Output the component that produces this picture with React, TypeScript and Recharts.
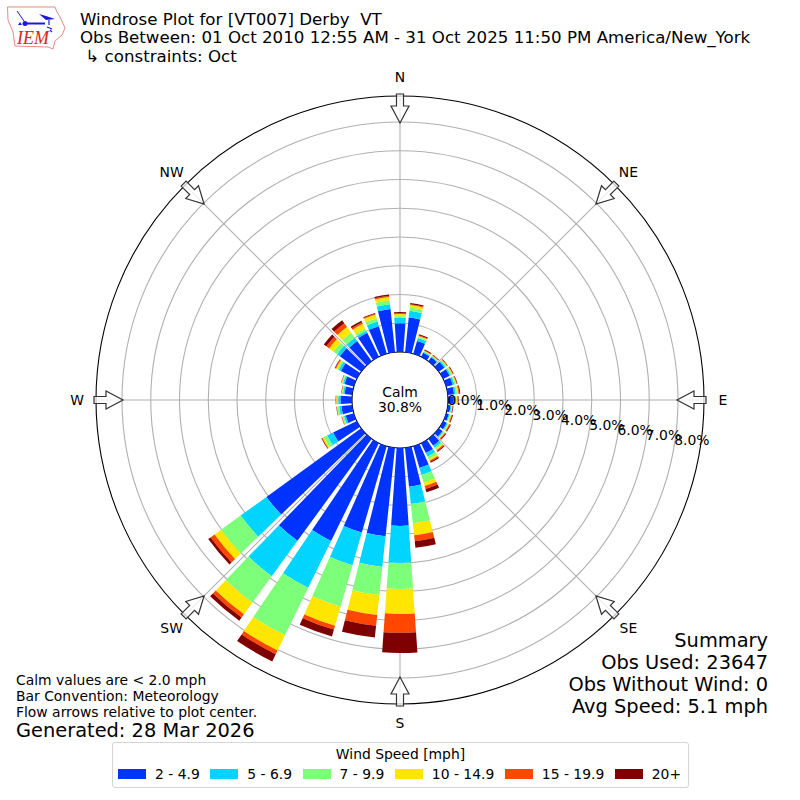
import React from "react";
import { RadialBarChart, RadialBar, PolarGrid, PolarAngleAxis, PolarRadiusAxis, Legend } from "recharts";

const FONT = "'DejaVu Sans', sans-serif";
const CX = 400;
const CY = 400;
const INNER_R = 48;
const OUTER_R = 304;
// radius where the value axis ends, 28.75px per percent
const AXIS_R = 306.75;

// direction bins in degrees, 0 = north, clockwise
const directions = [
    0, 10, 20, 30, 40, 50, 60, 70, 80, 90, 100, 110, 120, 130, 140, 150, 160, 170,
    180, 190, 200, 210, 220, 230, 240, 250, 260, 270, 280, 290, 300, 310, 320, 330, 340, 350,
];

// percent of observations in each speed class, per direction bin
const speed2to5 = [
    1.0, 1.22, 0.47, 0.16, 0.17, 0.24, 0.25, 0.24, 0.22, 0.2, 0.1, 0.1, 0.14, 0.16, 0.3, 0.38, 0.79, 1.36,
    2.71, 3.1, 3.13, 3.79, 4.39, 4.07, 0.92, 0.3, 0.38, 0.4, 0.27, 0.34, 0.62, 0.92, 0.87, 0.93, 1.0, 1.51,
];
const speed5to7 = [
    0.2, 0.23, 0.1, 0.04, 0.03, 0.05, 0.05, 0.06, 0.06, 0.05, 0.03, 0.03, 0.04, 0.04, 0.08, 0.14, 0.25, 0.61,
    1.29, 1.07, 1.18, 1.81, 1.52, 1.11, 0.23, 0.06, 0.08, 0.08, 0.05, 0.05, 0.08, 0.12, 0.13, 0.07, 0.17, 0.17,
];
const speed7to10 = [
    0.05, 0.12, 0.05, 0.02, 0.02, 0.04, 0.04, 0.04, 0.05, 0.04, 0.02, 0.03, 0.03, 0.03, 0.06, 0.1, 0.28, 0.67,
    0.9, 0.98, 1.5, 1.84, 1.14, 0.84, 0.13, 0.05, 0.06, 0.05, 0.04, 0.04, 0.06, 0.16, 0.22, 0.1, 0.12, 0.14,
];
const speed10to15 = [
    0.07, 0.08, 0.03, 0.02, 0.02, 0.02, 0.03, 0.03, 0.05, 0.04, 0.02, 0.04, 0.03, 0.03, 0.05, 0.06, 0.12, 0.42,
    0.87, 0.7, 0.69, 0.59, 0.5, 0.28, 0.05, 0.02, 0.02, 0.02, 0.01, 0.02, 0.05, 0.18, 0.25, 0.18, 0.13, 0.11,
];
const speed15to20 = [
    0.03, 0.03, 0.02, 0.02, 0.02, 0.01, 0.02, 0.02, 0.03, 0.02, 0.01, 0.02, 0.03, 0.03, 0.04, 0.04, 0.11, 0.21,
    0.66, 0.38, 0.14, 0.14, 0.14, 0.17, 0.02, 0.01, 0.01, 0.01, 0.01, 0.01, 0.03, 0.12, 0.16, 0.06, 0.03, 0.05,
];
const speed20plus = [
    0.04, 0.04, 0.04, 0.03, 0.02, 0.02, 0.02, 0.02, 0.03, 0.02, 0.02, 0.03, 0.03, 0.03, 0.03, 0.04, 0.12, 0.23,
    0.7, 0.41, 0.25, 0.28, 0.14, 0.1, 0.02, 0.01, 0.01, 0.01, 0.01, 0.01, 0.02, 0.11, 0.13, 0.06, 0.03, 0.04,
];

const seriesKeys = ["s1", "s2", "s3", "s4", "s5", "s6"];
const seriesLabels = ["2 - 4.9", "5 - 6.9", "7 - 9.9", "10 - 14.9", "15 - 19.9", "20+"];
const seriesColors = ["#0033ff", "#00d4ff", "#7dff7a", "#ffe600", "#ff4700", "#7f0000"];

const radiusTicks = [0, 1, 2, 3, 4, 5, 6, 7, 8];
const ringRadii = [76.75, 105.5, 134.25, 163, 191.75, 220.5, 249.25, 278];
const compassNames = [
    { deg: 0, name: "N" },
    { deg: 45, name: "NE" },
    { deg: 90, name: "E" },
    { deg: 135, name: "SE" },
    { deg: 180, name: "S" },
    { deg: 225, name: "SW" },
    { deg: 270, name: "W" },
    { deg: 315, name: "NW" },
];

const titleLines = [
    "Windrose Plot for [VT007] Derby  VT",
    "Obs Between: 01 Oct 2010 12:55 AM - 31 Oct 2025 11:50 PM America/New_York",
    " \u21b3 constraints: Oct",
];
const summaryLines = ["Summary", "Obs Used: 23647", "Obs Without Wind: 0", "Avg Speed: 5.1 mph"];
const noteLines = ["Calm values are < 2.0 mph", "Bar Convention: Meteorology", "Flow arrows relative to plot center."];

const chartData = directions.map((dir, i) => ({
    dir,
    s1: speed2to5[i],
    s2: speed5to7[i],
    s3: speed7to10[i],
    s4: speed10to15[i],
    s5: speed15to20[i],
    s6: speed20plus[i],
}));

function RadiusTick({ x, y, payload }: any) {
    return (
        <text x={x + 18} y={y - 8} textAnchor="middle" dominantBaseline="central" fontSize={13.9} fill="#000" fontFamily={FONT}>
            {payload.value.toFixed(1)}%
        </text>
    );
}

function CompassMarks() {
    return (
        <g>
            {compassNames.map((c) => {
                const rad = (c.deg * Math.PI) / 180;
                return (
                    <g key={c.name}>
                        <path
                            transform={`rotate(${c.deg} ${CX} ${CY})`}
                            d={`M${CX - 3.5} ${CY - 306} L${CX + 3.5} ${CY - 306} L${CX + 3.5} ${CY - 294} L${CX + 9} ${CY - 294} L${CX} ${CY - 277} L${CX - 9} ${CY - 294} L${CX - 3.5} ${CY - 294} Z`}
                            fill="#fff"
                            fillOpacity={0.75}
                            stroke="#333"
                            strokeWidth={1.2}
                        />
                        <text
                            x={CX + 323 * Math.sin(rad)}
                            y={CY - 323 * Math.cos(rad)}
                            textAnchor="middle"
                            dominantBaseline="central"
                            fontSize={13.9}
                            fontFamily={FONT}
                        >
                            {c.name}
                        </text>
                    </g>
                );
            })}
        </g>
    );
}

function IemLogo() {
    return (
        <g>
            <path
                d="M7.5 7 L55 7 L57 12 L60 17 L65 28 L62 35 L55 41 L53 49 L48 47 L15 46 L13 32 L8 20 Z"
                fill="none"
                stroke="#e88"
                strokeWidth={1}
            />
            <path d="M25 23.5 L45 23.5" stroke="#1a1ad6" strokeWidth={2} />
            <circle cx={25} cy={23.5} r={2.5} fill="#1a1ad6" />
            <path d="M17 11 L24 21" stroke="#1a1ad6" strokeWidth={1} fill="none" />
            <path d="M39 14 L46 16 L55 19 L46 20 Z" fill="#1a1ad6" />
            <path d="M49 20 L49 25 M47 27 L52 29 M50 30 L52 32" stroke="#1a1ad6" strokeWidth={1.2} fill="none" />
            <path d="M18 25 l2 -3 l2 3 Z" fill="#1a1ad6" />
            <text x={17} y={44} fontFamily="'Liberation Serif', serif" fontStyle="italic" fontSize={18} fill="#d22">
                IEM
            </text>
        </g>
    );
}

function SpeedLegend() {
    return (
        <div
            style={{
                boxSizing: "border-box",
                width: 577,
                height: 46,
                border: "1px solid #d5d5d5",
                borderRadius: 3,
                background: "#fff",
                fontFamily: FONT,
                fontSize: 13.9,
                color: "#000",
            }}
        >
            <div style={{ textAlign: "center", lineHeight: "16px", marginTop: 3 }}>Wind Speed [mph]</div>
            <div style={{ display: "flex", marginTop: 4, paddingLeft: 5, lineHeight: "16px", whiteSpace: "nowrap" }}>
                {seriesLabels.map((label, i) => (
                    <div key={label} style={{ display: "flex", alignItems: "center", marginRight: 10.5 }}>
                        <span style={{ display: "inline-block", width: 28, height: 10, background: seriesColors[i], marginRight: 9 }} />
                        {label}
                    </div>
                ))}
            </div>
        </div>
    );
}

export default function App() {
    return (
        <div style={{ position: "absolute", left: 0, top: 0, width: 800, height: 800, fontFamily: FONT }}>
            <RadialBarChart
                width={800}
                height={800}
                data={chartData}
                layout="centric"
                cx={CX}
                cy={CY}
                innerRadius={INNER_R}
                outerRadius={AXIS_R}
                startAngle={85}
                endAngle={-275}
                barCategoryGap="9.5%"
                margin={{ top: 0, left: 0, right: 0, bottom: 0 }}
            >
                <PolarAngleAxis type="category" dataKey="dir" tick={false} tickLine={false} axisLine={false} />
                {seriesKeys.map((key, i) => (
                    <RadialBar key={key} dataKey={key} stackId="speed" fill={seriesColors[i]} isAnimationActive={false} />
                ))}
                <PolarGrid
                    gridType="circle"
                    polarRadius={ringRadii}
                    polarAngles={[0, 45, 90, 135, 180, 225, 270, 315]}
                    stroke="#b0b0b0"
                    strokeWidth={1.1}
                />
                <circle cx={CX} cy={CY} r={OUTER_R} fill="none" stroke="#000" strokeWidth={1.1} />
                <circle cx={CX} cy={CY} r={INNER_R} fill="none" stroke="#000" strokeWidth={1.1} />
                <PolarRadiusAxis
                    type="number"
                    domain={[0, 9]}
                    ticks={radiusTicks}
                    angle={-10}
                    tick={<RadiusTick />}
                    tickLine={false}
                    axisLine={false}
                />
                <CompassMarks />
                <text x={CX} y={392} textAnchor="middle" dominantBaseline="central" fontSize={13.9} fontFamily={FONT}>
                    Calm
                </text>
                <text x={CX} y={407} textAnchor="middle" dominantBaseline="central" fontSize={13.9} fontFamily={FONT}>
                    30.8%
                </text>
                <IemLogo />
                {titleLines.map((line, i) => (
                    <text key={i} x={80} y={25 + i * 18.3} fontSize={16.67} fontFamily={FONT} style={{ whiteSpace: "pre" }}>
                        {line}
                    </text>
                ))}
                {summaryLines.map((line, i) => (
                    <text key={i} x={768} y={640 + i * 22} textAnchor="end" dominantBaseline="central" fontSize={19.4} fontFamily={FONT}>
                        {line}
                    </text>
                ))}
                {noteLines.map((line, i) => (
                    <text key={i} x={16} y={680 + i * 16} dominantBaseline="central" fontSize={13.9} fontFamily={FONT}>
                        {line}
                    </text>
                ))}
                <text x={16} y={730} dominantBaseline="central" fontSize={19.4} fontFamily={FONT}>
                    Generated: 28 Mar 2026
                </text>
                <Legend
                    content={<SpeedLegend />}
                    wrapperStyle={{ left: 112, top: 742, bottom: "auto", width: 577 }}
                />
            </RadialBarChart>
        </div>
    );
}
